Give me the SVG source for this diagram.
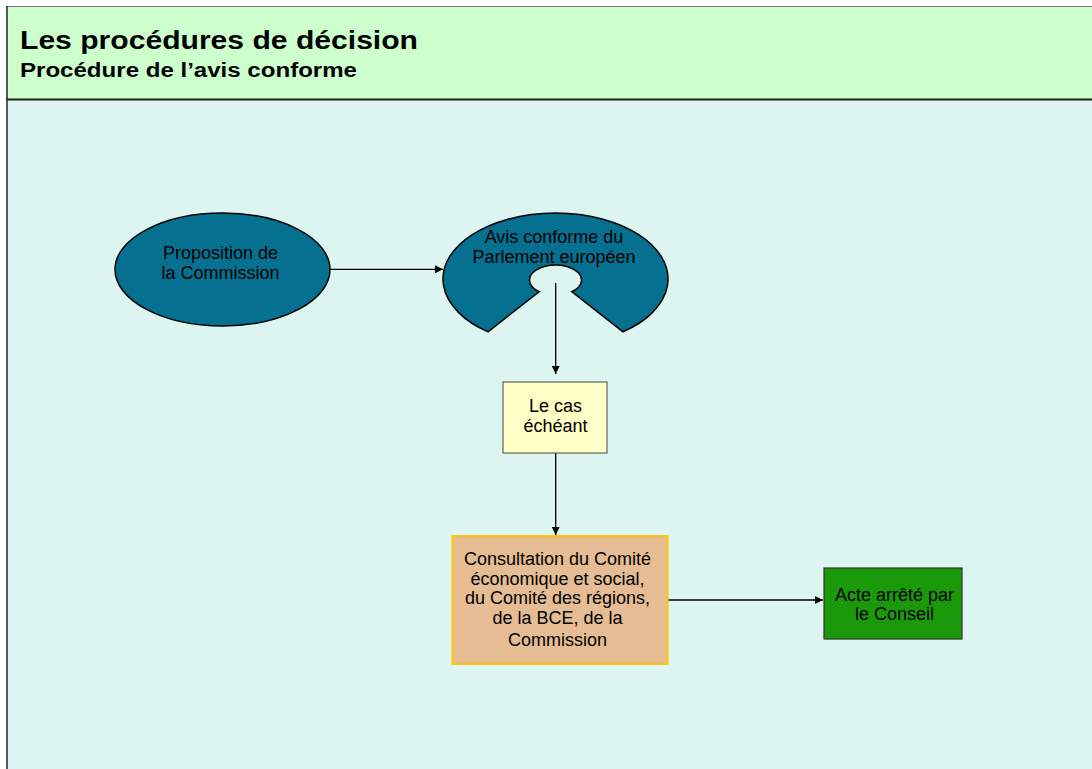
<svg xmlns="http://www.w3.org/2000/svg" width="1092" height="769" viewBox="0 0 1092 769">
<defs>
<style>
.t{font-family:"Liberation Sans",Arial,sans-serif;font-size:18px;fill:#000;text-anchor:middle}
.h{font-family:"Liberation Sans",Arial,sans-serif;font-weight:bold;fill:#000}
.c{stroke:#000;stroke-width:1.3;fill:none}
</style>
<marker id="ah" viewBox="0 0 10 10" refX="10" refY="5" markerWidth="10" markerHeight="8" markerUnits="userSpaceOnUse" orient="auto">
<path d="M0,0L10,5L0,10z" fill="#000"/>
</marker>
</defs>
<rect x="0" y="0" width="1092" height="769" fill="#fff"/>
<rect x="6" y="100" width="1086" height="669" fill="#DDF5F1"/>
<rect x="6" y="6" width="1086" height="94" fill="#CCFFCC"/>
<line x1="6" y1="6.5" x2="1092" y2="6.5" stroke="#777" stroke-width="1"/>
<line x1="6" y1="99.5" x2="1092" y2="99.5" stroke="#222" stroke-width="2"/>
<line x1="7" y1="6" x2="7" y2="769" stroke="#333" stroke-width="1.6"/>
<g id="header">
<text class="h" x="20" y="48.5" font-size="25" textLength="398" lengthAdjust="spacingAndGlyphs">Les procédures de décision</text>
<text class="h" x="20" y="76.5" font-size="19.5" textLength="337" lengthAdjust="spacingAndGlyphs">Procédure de l’avis conforme</text>
</g>
<g id="connectors">
<line class="c" x1="330" y1="269.3" x2="443" y2="269.3" marker-end="url(#ah)"/>
<line class="c" x1="555.7" y1="283" x2="555.7" y2="374" marker-end="url(#ah)"/>
<line class="c" x1="555.7" y1="453" x2="555.7" y2="535" marker-end="url(#ah)"/>
<line class="c" x1="668" y1="600" x2="823" y2="600" marker-end="url(#ah)"/>
</g>
<g id="proposition">
<ellipse cx="222.5" cy="269.5" rx="107.5" ry="56.5" fill="#05708F" stroke="#000" stroke-width="1.5"/>
<text class="t" x="220.5" y="259.3">Proposition de</text>
<text class="t" x="220.5" y="278.5">la Commission</text>
</g>
<g id="avis">
<path d="M488,331.8 A112.5,66 0 1 1 623,331.8 L571.8,291.7 A26,15 0 1 0 539.2,291.7 Z" fill="#05708F" stroke="#000" stroke-width="1.5" stroke-linejoin="miter"/>
<text class="t" x="554" y="243.3">Avis conforme du</text>
<text class="t" x="554" y="262.7">Parlement européen</text>
</g>
<g id="lecas">
<rect x="503" y="382" width="104" height="71" fill="#FFFFC6" stroke="#444" stroke-width="1"/>
<text class="t" x="555.5" y="412.3">Le cas</text>
<text class="t" x="555.5" y="431.7">échéant</text>
</g>
<g id="consultation">
<rect x="452.5" y="536" width="215" height="128" fill="#E6BC94" stroke="#FFC600" stroke-width="2"/>
<text class="t" x="557.5" y="565">Consultation du Comité</text>
<text class="t" x="557.5" y="584.5">économique et social,</text>
<text class="t" x="557.5" y="604">du Comité des régions,</text>
<text class="t" x="557.5" y="623.5">de la BCE, de la</text>
<text class="t" x="557.5" y="646">Commission</text>
</g>
<g id="acte">
<rect x="824" y="568" width="138" height="71" fill="#1A990A" stroke="#333" stroke-width="1.2"/>
<text class="t" x="894.5" y="600.7">Acte arrêté par</text>
<text class="t" x="894.5" y="620">le Conseil</text>
</g>
</svg>
